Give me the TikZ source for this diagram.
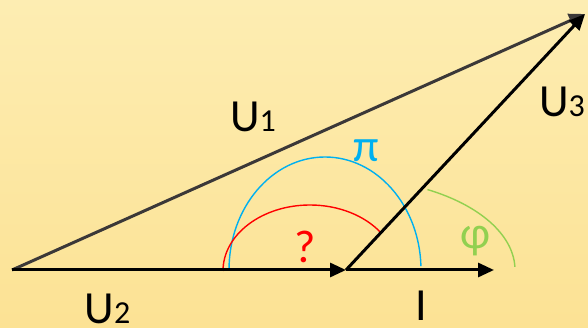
\documentclass[tikz,border=0pt]{standalone}
\usepackage{fontspec}
\setmainfont{Carlito}
\usepackage{xcolor}
\usepackage{tikz}
\usetikzlibrary{arrows.meta,calc}

\definecolor{bgtop}{RGB}{253,237,178}
\definecolor{bgbot}{RGB}{252,226,148}
\definecolor{darkline}{RGB}{59,56,56}
\definecolor{piblue}{RGB}{0,176,240}
\definecolor{phigreen}{RGB}{146,208,80}

\newcommand{\sub}[1]{{\fontsize{32}{32}\selectfont #1}}

\begin{document}
\begin{tikzpicture}[x=1pt, y=1pt,
    every node/.style={font=\fontsize{46}{46}\selectfont, inner sep=0pt},
    vec/.style={line width=3pt, -{Triangle[length=16pt, width=14pt]}}]
  % background
  \shade[top color=bgtop, bottom color=bgbot] (0,0) rectangle (588,328);
  \useasboundingbox (0,0) rectangle (588,328);

  \coordinate (O) at (12,58);
  \coordinate (A) at (346,58);
  \coordinate (Itip) at (494,58);
  \coordinate (T) at (585,314);

  % angle arcs
  \draw[piblue, line width=1.4pt] (229,58)
    arc[start angle=180, end angle=2, x radius=96pt, y radius=113pt];
  \draw[red, line width=1.4pt] (223,57)
    arc[start angle=180, end angle=35, x radius=87pt, y radius=66pt];
  \draw[phigreen, line width=1.4pt] ($(345,58)+(61:170pt and 92pt)$)
    arc[start angle=61, end angle=2, x radius=170pt, y radius=92pt];

  % vectors
  \draw[vec, darkline] (O) -- (T);
  \draw[vec] (O) -- (A);
  \draw[vec] (A) -- (Itip);
  \draw[vec] (A) -- (T);

  \node (u1) at (253,211) {U\sub{1}};
  \node (u2) at (107.5,19.5) {U\sub{2}};
  \node (u3) at (562,226.5) {U\sub{3}};
  \node (i) at (421,22) {I};
  \node[text=piblue] (pi) at (366.5,177) {π};
  \node[text=red] (q) at (305,81) {?};
  \node[text=phigreen] (phi) at (475,87) {φ};
\end{tikzpicture}
\end{document}
